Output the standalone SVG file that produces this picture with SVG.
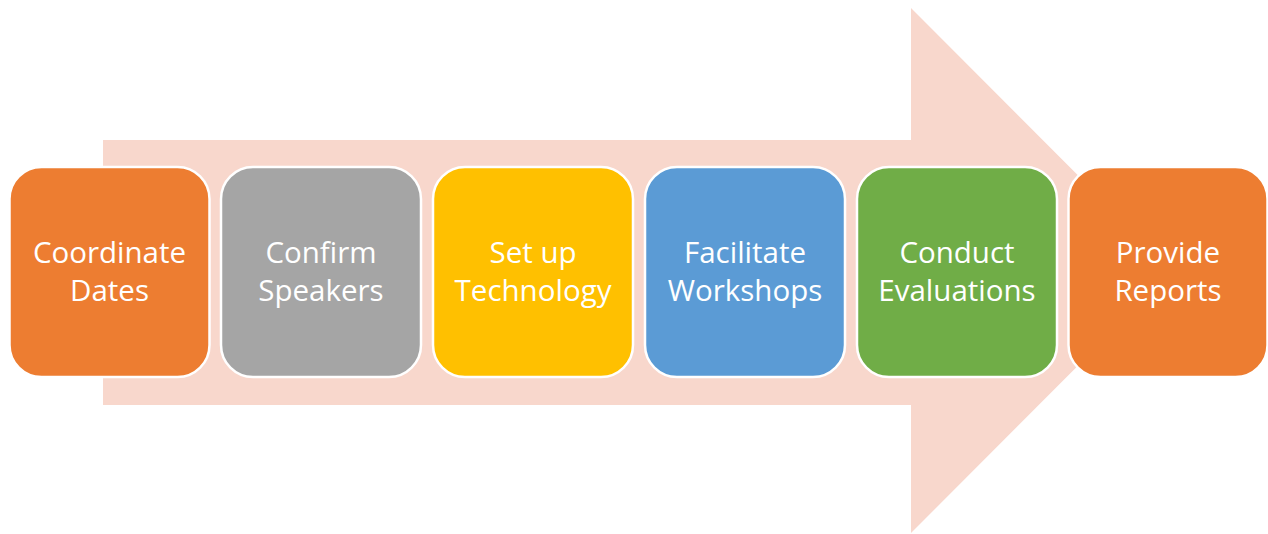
<svg xmlns="http://www.w3.org/2000/svg" width="1268" height="534" viewBox="0 0 1268 534">
<style>
.box{stroke:#FFFFFF;stroke-width:2.5}
.lbl{font-family:"Open Sans","Liberation Sans",sans-serif;font-size:29.5px;fill:#FFFFFF;text-anchor:middle}
</style>
<rect width="1268" height="534" fill="#FFFFFF"/>
<g id="arrow">
<polygon points="103,140 911,140 911,8 1173,270.5 911,533 911,405 103,405" fill="#F8D7CC"/>
</g>
<g id="step1">
<rect class="box" x="9.5" y="167" width="200" height="210" rx="32" fill="#ED7D31"/>
<text class="lbl" x="109.5" y="263">Coordinate</text>
<text class="lbl" x="109.5" y="301">Dates</text>
</g>
<g id="step2">
<rect class="box" x="221" y="167" width="200" height="210" rx="32" fill="#A5A5A5"/>
<text class="lbl" x="321" y="263">Confirm</text>
<text class="lbl" x="321" y="301">Speakers</text>
</g>
<g id="step3">
<rect class="box" x="433" y="167" width="200" height="210" rx="32" fill="#FFC000"/>
<text class="lbl" x="533" y="263">Set up</text>
<text class="lbl" x="533" y="301">Technology</text>
</g>
<g id="step4">
<rect class="box" x="645" y="167" width="200" height="210" rx="32" fill="#5B9BD5"/>
<text class="lbl" x="745" y="263">Facilitate</text>
<text class="lbl" x="745" y="301">Workshops</text>
</g>
<g id="step5">
<rect class="box" x="857" y="167" width="200" height="210" rx="32" fill="#70AD47"/>
<text class="lbl" x="957" y="263">Conduct</text>
<text class="lbl" x="957" y="301">Evaluations</text>
</g>
<g id="step6">
<rect class="box" x="1068.5" y="167" width="199" height="210" rx="32" fill="#ED7D31"/>
<text class="lbl" x="1168" y="263">Provide</text>
<text class="lbl" x="1168" y="301">Reports</text>
</g>
<g id="connectors"></g>
</svg>
